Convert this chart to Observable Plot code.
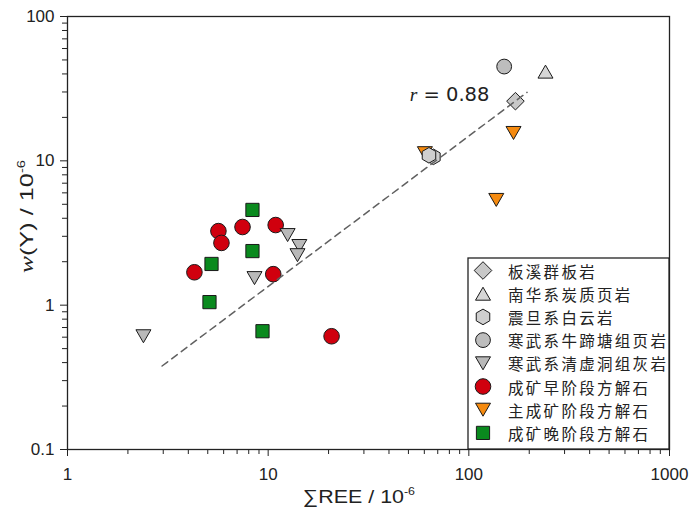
<!DOCTYPE html>
<html><head><meta charset="utf-8">
<script src="https://cdn.jsdelivr.net/npm/d3@7"></script>
<script src="https://cdn.jsdelivr.net/npm/@observablehq/plot@0.6"></script>
<style>body{margin:0;background:#fff;} #chart{width:696px;height:507px;}</style>
</head><body><div id="chart"></div>
<script>
// ---- data (ΣREE, w(Y), both in 10^-6) ----
const slateX = [170.7];              const slateY = [25.9];          // 板溪群板岩
const nhShaleX = [241];             const nhShaleY = [41.5];        // 南华系炭质页岩
const dolomiteX = [66.6, 63.3];     const dolomiteY = [10.66, 10.92]; // 震旦系白云岩
const ntShaleX = [150];             const ntShaleY = [45];          // 寒武系牛蹄塘组页岩
const qxdX = [12.5, 14.3, 14.0, 8.55, 2.39];
const qxdY = [3.06, 2.57, 2.22, 1.54, 0.609];                       // 寒武系清虚洞组灰岩
const earlyX = [5.65, 5.85, 7.45, 10.9, 4.29, 10.6, 20.7];
const earlyY = [3.26, 2.70, 3.48, 3.59, 1.69, 1.64, 0.609];         // 成矿早阶段方解石
const mainX = [60.4, 167, 137];     const mainY = [11.3, 15.6, 5.36]; // 主成矿阶段方解石
const lateX = [8.35, 8.35, 5.22, 5.10, 9.37];
const lateY = [4.57, 2.37, 1.93, 1.05, 0.66];                       // 成矿晚阶段方解石
const fitX = [2.96, 195];           const fitY = [0.379, 29.8];     // regression line ends
const rText = "= 0.88";

const xMajor = [1, 10, 100, 1000];  const xTickLabels = ["1", "10", "100", "1000"];
const yMajor = [0.1, 1, 10, 100];   const yTickLabels = ["0.1", "1", "10", "100"];
const xMinor = [2,3,4,5,6,7,8,9,20,30,40,50,60,70,80,90,200,300,400,500,600,700,800,900];
const yMinor = [0.2,0.3,0.4,0.5,0.6,0.7,0.8,0.9,2,3,4,5,6,7,8,9,20,30,40,50,60,70,80,90];

const legendNames = ["板溪群板岩","南华系炭质页岩","震旦系白云岩","寒武系牛蹄塘组页岩",
  "寒武系清虚洞组灰岩","成矿早阶段方解石","主成矿阶段方解石","成矿晚阶段方解石"];

// ---- symbols (radius r = sqrt(size/PI) = half-size in px) ----
const R = s => Math.sqrt(s / Math.PI);
const symDiamond = {draw(c, s){const r=R(s); c.moveTo(0,-r); c.lineTo(r,0); c.lineTo(0,r); c.lineTo(-r,0); c.closePath();}};
const symTriUp = {draw(c, s){const r=R(s), h=r*Math.sqrt(3); c.moveTo(0,-h/2); c.lineTo(r,h/2); c.lineTo(-r,h/2); c.closePath();}};
const symTriDown = {draw(c, s){const r=R(s), h=r*Math.sqrt(3); c.moveTo(0,h/2); c.lineTo(r,-h/2); c.lineTo(-r,-h/2); c.closePath();}};
const symSquare = {draw(c, s){const r=R(s); c.rect(-r,-r,2*r,2*r);}};
const symHex = {draw(c, s){const r=R(s); for(let k=0;k<6;k++){const a=-Math.PI/2+k*Math.PI/3; const px=r*Math.cos(a), py=r*Math.sin(a); k?c.lineTo(px,py):c.moveTo(px,py);} c.closePath();}};
const symCircle = {draw(c, s){const r=R(s); c.moveTo(r,0); c.arc(0,0,r,0,2*Math.PI);}};

const styles = [
  {sym: symDiamond, fill: "#c8c8c8", r: 8.8},
  {sym: symTriUp,   fill: "#d6d6d6", r: 7.5},
  {sym: symHex,     fill: "#cfcfcf", r: 7.8},
  {sym: symCircle,  fill: "#bdbdbd", r: 7.4},
  {sym: symTriDown, fill: "#b9b9b9", r: 7.5},
  {sym: symCircle,  fill: "#d0000e", r: 7.8},
  {sym: symTriDown, fill: "#f58a0f", r: 7.5},
  {sym: symSquare,  fill: "#0a8a1e", r: 6.6}
];
const STROKE = "#1a1a1a";
const pts = (xs, ys) => xs.map((x, i) => ({x, y: ys[i]}));
const dot = (xs, ys, k) => Plot.dot(pts(xs, ys), {x: "x", y: "y", symbol: styles[k].sym, r: styles[k].r,
  fill: styles[k].fill, stroke: STROKE, strokeWidth: 1, fillOpacity: 1});

const chart = Plot.plot({
  width: 696, height: 507,
  marginLeft: 67, marginRight: 27, marginTop: 16, marginBottom: 58,
  style: {fontFamily: "'Liberation Sans', Arial, sans-serif", fontSize: "17px", background: "#fff", color: "#222", overflow: "visible"},
  x: {type: "log", domain: [1, 1000]},
  y: {type: "log", domain: [0.1, 100]},
  marks: [
    Plot.axisX({ticks: xMinor, tickSize: 5, tickFormat: () => "", label: null, stroke: "#222"}),
    Plot.axisY({ticks: yMinor, tickSize: 5, tickFormat: () => "", label: null, stroke: "#222"}),
    Plot.axisX({ticks: xMajor, tickSize: 7, tickPadding: 11, tickFormat: d => xTickLabels[xMajor.indexOf(d)], label: null, stroke: "#222", fill: "#222"}),
    Plot.axisY({ticks: yMajor, tickSize: 7, tickPadding: 6, tickFormat: d => yTickLabels[yMajor.indexOf(d)], label: null, stroke: "#222", fill: "#222"}),
    dot(earlyX, earlyY, 5),
    dot(mainX, mainY, 6),
    dot(lateX, lateY, 7),
    dot(slateX, slateY, 0),
    dot(nhShaleX, nhShaleY, 1),
    dot(dolomiteX, dolomiteY, 2),
    dot(ntShaleX, ntShaleY, 3),
    dot(qxdX, qxdY, 4),
    Plot.line(pts(fitX, fitY), {x: "x", y: "y", stroke: "#606060", strokeWidth: 1.5, strokeDasharray: "7,5"}),
    Plot.frame({stroke: "#222", strokeWidth: 1.3})
  ]
});
document.getElementById("chart").appendChild(chart);

const svg = d3.select(chart);
const sx = chart.scale("x"), sy = chart.scale("y");

// r = 0.88 annotation
const rt = svg.append("text").attr("x", sx.apply(51)).attr("y", sy.apply(25.9)).attr("text-anchor", "start")
  .style("font-size", "19.5px").attr("fill", "#222");
rt.append("tspan").text("r").style("font-family", "'Liberation Serif', 'Times New Roman', serif").style("font-style", "italic");
rt.append("tspan").text(" " + rText).style("font-family", "'DejaVu Sans', sans-serif");

// axis titles
const xl = svg.append("text").attr("x", 359).attr("y", 503).attr("text-anchor", "middle")
  .style("font-family", "'Liberation Sans', Arial, sans-serif").style("font-size", "19px").attr("fill", "#222")
  .attr("textLength", 112).attr("lengthAdjust", "spacingAndGlyphs");
xl.append("tspan").text("∑REE / 10");
xl.append("tspan").text("-6").attr("dy", -8).style("font-size", "11px");

const yl = svg.append("text").attr("transform", "translate(33,216.5) rotate(-90)").attr("text-anchor", "middle")
  .style("font-family", "'Liberation Sans', Arial, sans-serif").style("font-size", "19px").attr("fill", "#222")
  .attr("textLength", 113).attr("lengthAdjust", "spacingAndGlyphs");
yl.append("tspan").text("w").style("font-family", "'Liberation Serif', 'Times New Roman', serif").style("font-style", "italic");
yl.append("tspan").text("(Y) / 10");
yl.append("tspan").text("-6").attr("dy", -8).style("font-size", "11px");

// legend
const lg = svg.append("g");
lg.append("rect").attr("x", 468).attr("y", 258).attr("width", 201).attr("height", 191)
  .attr("fill", "#fff").attr("stroke", "#222").attr("stroke-width", 1.3);
legendNames.forEach((name, i) => {
  const y = 270.5 + i * 23.2;
  const st = styles[i];
  lg.append("path").attr("transform", `translate(483,${y})`)
    .attr("d", d3.symbol(st.sym, Math.PI * st.r * st.r)())
    .attr("fill", st.fill).attr("stroke", STROKE).attr("stroke-width", 1);
  lg.append("text").attr("x", 508).attr("y", y).attr("dominant-baseline", "central").attr("text-anchor", "start")
    .style("font-family", "'Noto Sans CJK SC', sans-serif").style("font-size", "15.5px")
    .style("letter-spacing", "2.3px").attr("fill", "#222").text(name);
});
</script></body></html>
